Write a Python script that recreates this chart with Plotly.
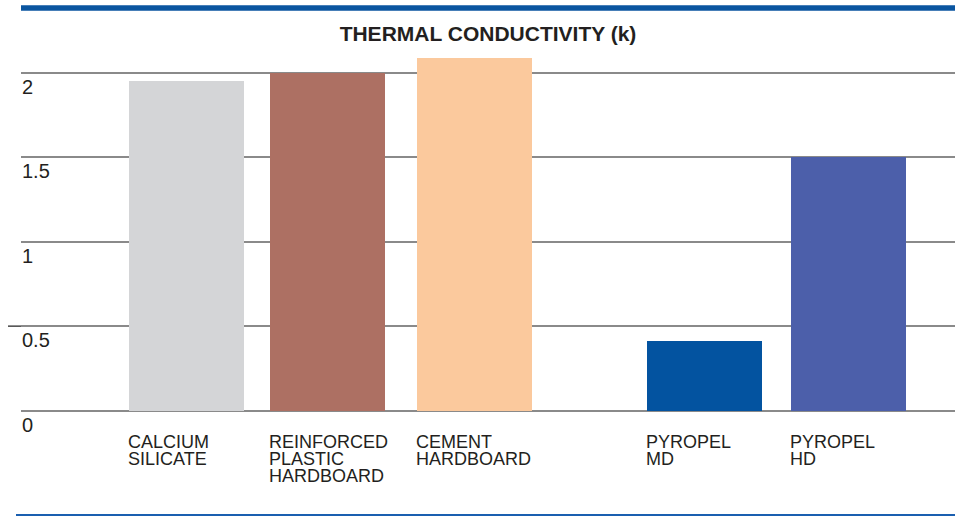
import plotly.graph_objects as go

# ---- data ----
categories = ["CALCIUM SILICATE", "REINFORCED PLASTIC HARDBOARD", "CEMENT HARDBOARD",
              "PYROPEL MD", "PYROPEL HD"]
label_lines = [["CALCIUM", "SILICATE"],
               ["REINFORCED", "PLASTIC", "HARDBOARD"],
               ["CEMENT", "HARDBOARD"],
               ["PYROPEL", "MD"],
               ["PYROPEL", "HD"]]
k_values = [1.95, 2.0, 2.09, 0.41, 1.5]
tick_vals = [0, 0.5, 1, 1.5, 2]
tick_text = ["0", "0.5", "1", "1.5", "2"]
title_text = "THERMAL CONDUCTIVITY (k)"

# ---- layout helpers ----
slots = [0, 0.98, 2, 3.6, 4.6]      # horizontal slot of each bar (gap before Pyropel)
bar_w = 0.8
colors = ["#d4d5d7", "#ad7063", "#fbc99d", "#0353a0", "#4c5faa"]
FONT = "Liberation Sans, Arial, Helvetica, sans-serif"
TXT = "#231f20"

fig = go.Figure()
fig.add_trace(go.Bar(
    x=slots, y=k_values, width=bar_w,
    marker=dict(color=colors, line=dict(width=0)),
    hovertext=categories, hoverinfo="text+y",
    showlegend=False,
))

annotations = []
line_gap = 17.4
for s, lines in zip(slots, label_lines):
    for i, ln in enumerate(lines):
        annotations.append(dict(
            x=s - bar_w / 2, y=0, xref="x", yref="y",
            text=ln, showarrow=False, xanchor="left", yanchor="top",
            yshift=-21 - i * line_gap, xshift=-2, height=17, borderpad=0,
            font=dict(family=FONT, size=18, color=TXT),
        ))

PLOT_H = 397
PLOT_W = 934
shapes = [
    dict(type="line", xref="paper", yref="paper", x0=0, x1=1.0,
         y0=1 + 31 / PLOT_H, y1=1 + 31 / PLOT_H, line=dict(color="#0a55a0", width=5.5)),
    dict(type="line", xref="paper", yref="paper", x0=-5 / PLOT_W, x1=1.0,
         y0=-79 / PLOT_H, y1=-79 / PLOT_H, line=dict(color="#1a5fb0", width=2)),
    dict(type="line", xref="paper", yref="y", x0=-13 / PLOT_W, x1=1 - 2.5 / PLOT_W,
         y0=0.5, y1=0.5, layer="below", line=dict(color="#222222", width=1.2)),
]

fig.update_layout(
    width=959, height=517,
    margin=dict(l=21, r=4, t=39, b=81),
    paper_bgcolor="white", plot_bgcolor="white",
    title=dict(text="<b>" + title_text + "</b>", x=0.5, xref="paper", xanchor="center",
               y=1 - 34 / 517, yref="container", yanchor="middle",
               font=dict(family=FONT, size=21, color=TXT)),
    xaxis=dict(range=[-1.149, 5.337], showticklabels=False, showgrid=False,
               zeroline=False, showline=False, ticks=""),
    yaxis=dict(range=[-0.15, 2.2], tickvals=tick_vals, ticktext=tick_text,
               ticklabelposition="inside", ticklabelshift=14, ticklabelstandoff=-2,
               ticks="", showgrid=True, gridcolor="#8a8a8a", gridwidth=1.5,
               zeroline=False, showline=False,
               tickfont=dict(family=FONT, size=20, color=TXT)),
    annotations=annotations,
    shapes=shapes,
    bargap=0,
)

fig.write_html("out.html", config={"displayModeBar": False},
               post_script="document.body.style.margin='0';document.body.style.overflow='hidden';")
